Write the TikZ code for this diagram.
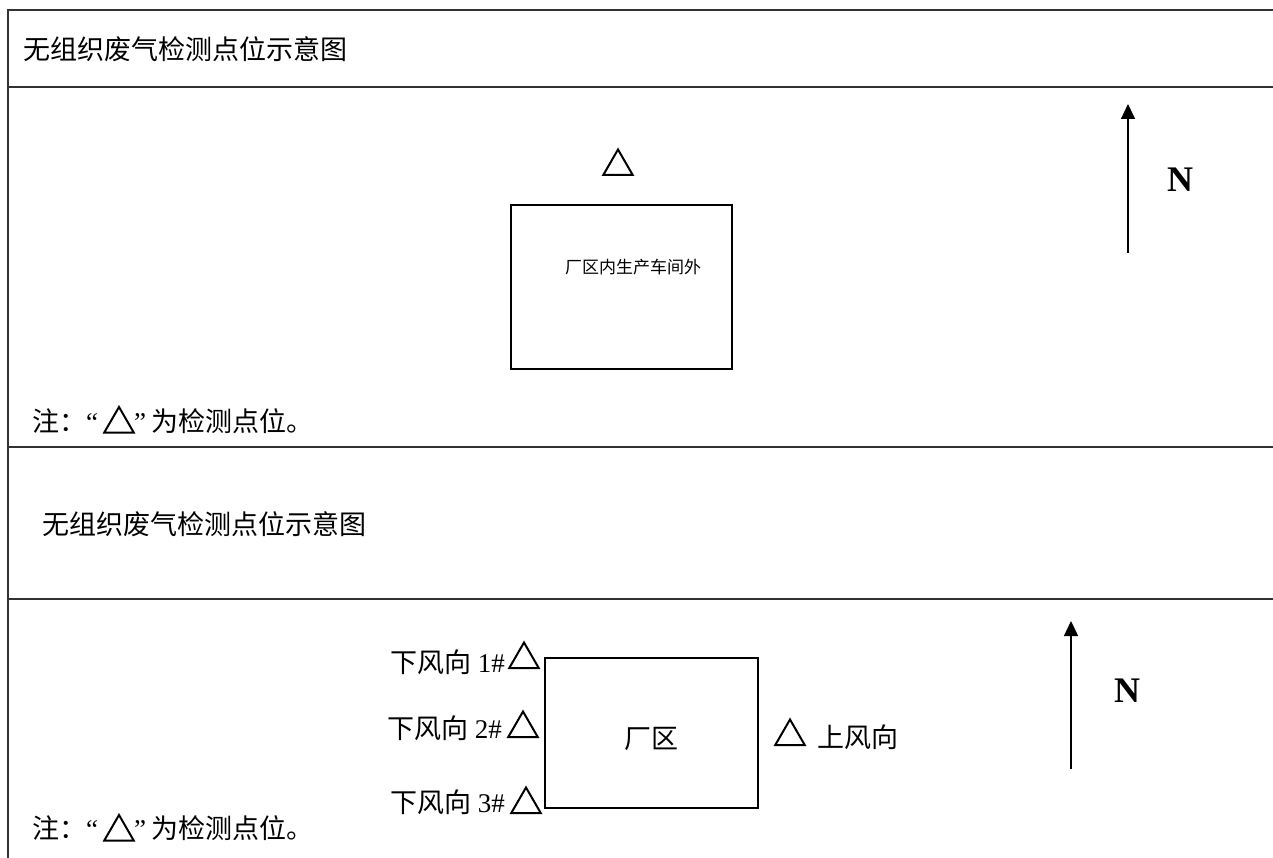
\documentclass[tikz,border=0pt]{standalone}
\usepackage{fontspec}
\setmainfont{Liberation Serif}
\newfontfamily\cjk{Noto Sans CJK SC}
\usetikzlibrary{shapes.geometric,arrows.meta}
\begin{document}
\begin{tikzpicture}[x=1pt,y=-1pt,
  frame/.style={line width=1.5pt,draw=black!80},
  boxline/.style={draw,line width=1.6pt,inner sep=0pt},
  lbl/.style={inner sep=0pt,font=\fontsize{27}{32}\selectfont},
  small/.style={inner sep=0pt,font=\cjk\fontsize{17}{20}\selectfont},
  tri/.style={regular polygon,regular polygon sides=3,draw,line width=2pt,minimum size=34pt,inner sep=0pt},
  northarrow/.style={line width=1.5pt,-{Triangle[length=15pt,width=14pt]}},
  nlbl/.style={inner sep=0pt,font=\fontsize{36}{40}\selectfont\bfseries}]
\useasboundingbox (0,0) rectangle (1273,858);
% frame
\coordinate (tl) at (8,10);
\coordinate (tr) at (1273,10);
\coordinate (bl) at (8,858);
\coordinate (l1) at (8,87);   \coordinate (r1) at (1273,87);
\coordinate (l2) at (8,447);  \coordinate (r2) at (1273,447);
\coordinate (l3) at (8,599);  \coordinate (r3) at (1273,599);
\draw[frame] (bl) -- (tl) -- (tr);
\draw[frame] (l1) -- (r1);
\draw[frame] (l2) -- (r2);
\draw[frame] (l3) -- (r3);
% upper panel
\node[lbl,anchor=west] (title1) at (23,49) {\cjk 无组织废气检测点位示意图};
\node[boxline,minimum width=221pt,minimum height=164pt] (box1) at (621.5,287) {};
\node[small] (box1txt) at (633,267) {厂区内生产车间外};
\node[tri] (t1) at (618,166.5) {};
\coordinate (a1s) at (1128,253);
\coordinate (a1e) at (1128,104);
\draw[northarrow] (a1s) -- (a1e);
\node[nlbl] (n1) at (1180,180) {N};
\node[lbl,anchor=west] (note1a) at (32,421) {{\cjk 注：}“};
\node[tri] (note1t) at (119,424) {};
\node[lbl,anchor=west] (note1b) at (134,421) {”\kern5pt{\cjk 为检测点位。}};
% lower panel
\node[lbl,anchor=west] (title2) at (42,524) {\cjk 无组织废气检测点位示意图};
\node[boxline,minimum width=213pt,minimum height=150pt] (box2) at (651.5,733) {};
\node[lbl] (box2txt) at (651,739) {\cjk 厂区};
\node[tri] (d1) at (524,659.5) {};
\node[tri] (d2) at (523,728.5) {};
\node[tri] (d3) at (526,804.5) {};
\node[tri] (u1) at (790,736.5) {};
\node[lbl,anchor=east] (d1txt) at (505,662) {{\cjk 下风向} 1\#};
\node[lbl,anchor=east] (d2txt) at (502,728) {{\cjk 下风向} 2\#};
\node[lbl,anchor=east] (d3txt) at (505,802) {{\cjk 下风向} 3\#};
\node[lbl,anchor=west] (u1txt) at (817,737) {\cjk 上风向};
\coordinate (a2s) at (1071,769);
\coordinate (a2e) at (1071,621);
\draw[northarrow] (a2s) -- (a2e);
\node[nlbl] (n2) at (1127,691) {N};
\node[lbl,anchor=west] (note2a) at (32,828) {{\cjk 注：}“};
\node[tri] (note2t) at (119,832) {};
\node[lbl,anchor=west] (note2b) at (134,828) {”\kern5pt{\cjk 为检测点位。}};
\end{tikzpicture}
\end{document}
